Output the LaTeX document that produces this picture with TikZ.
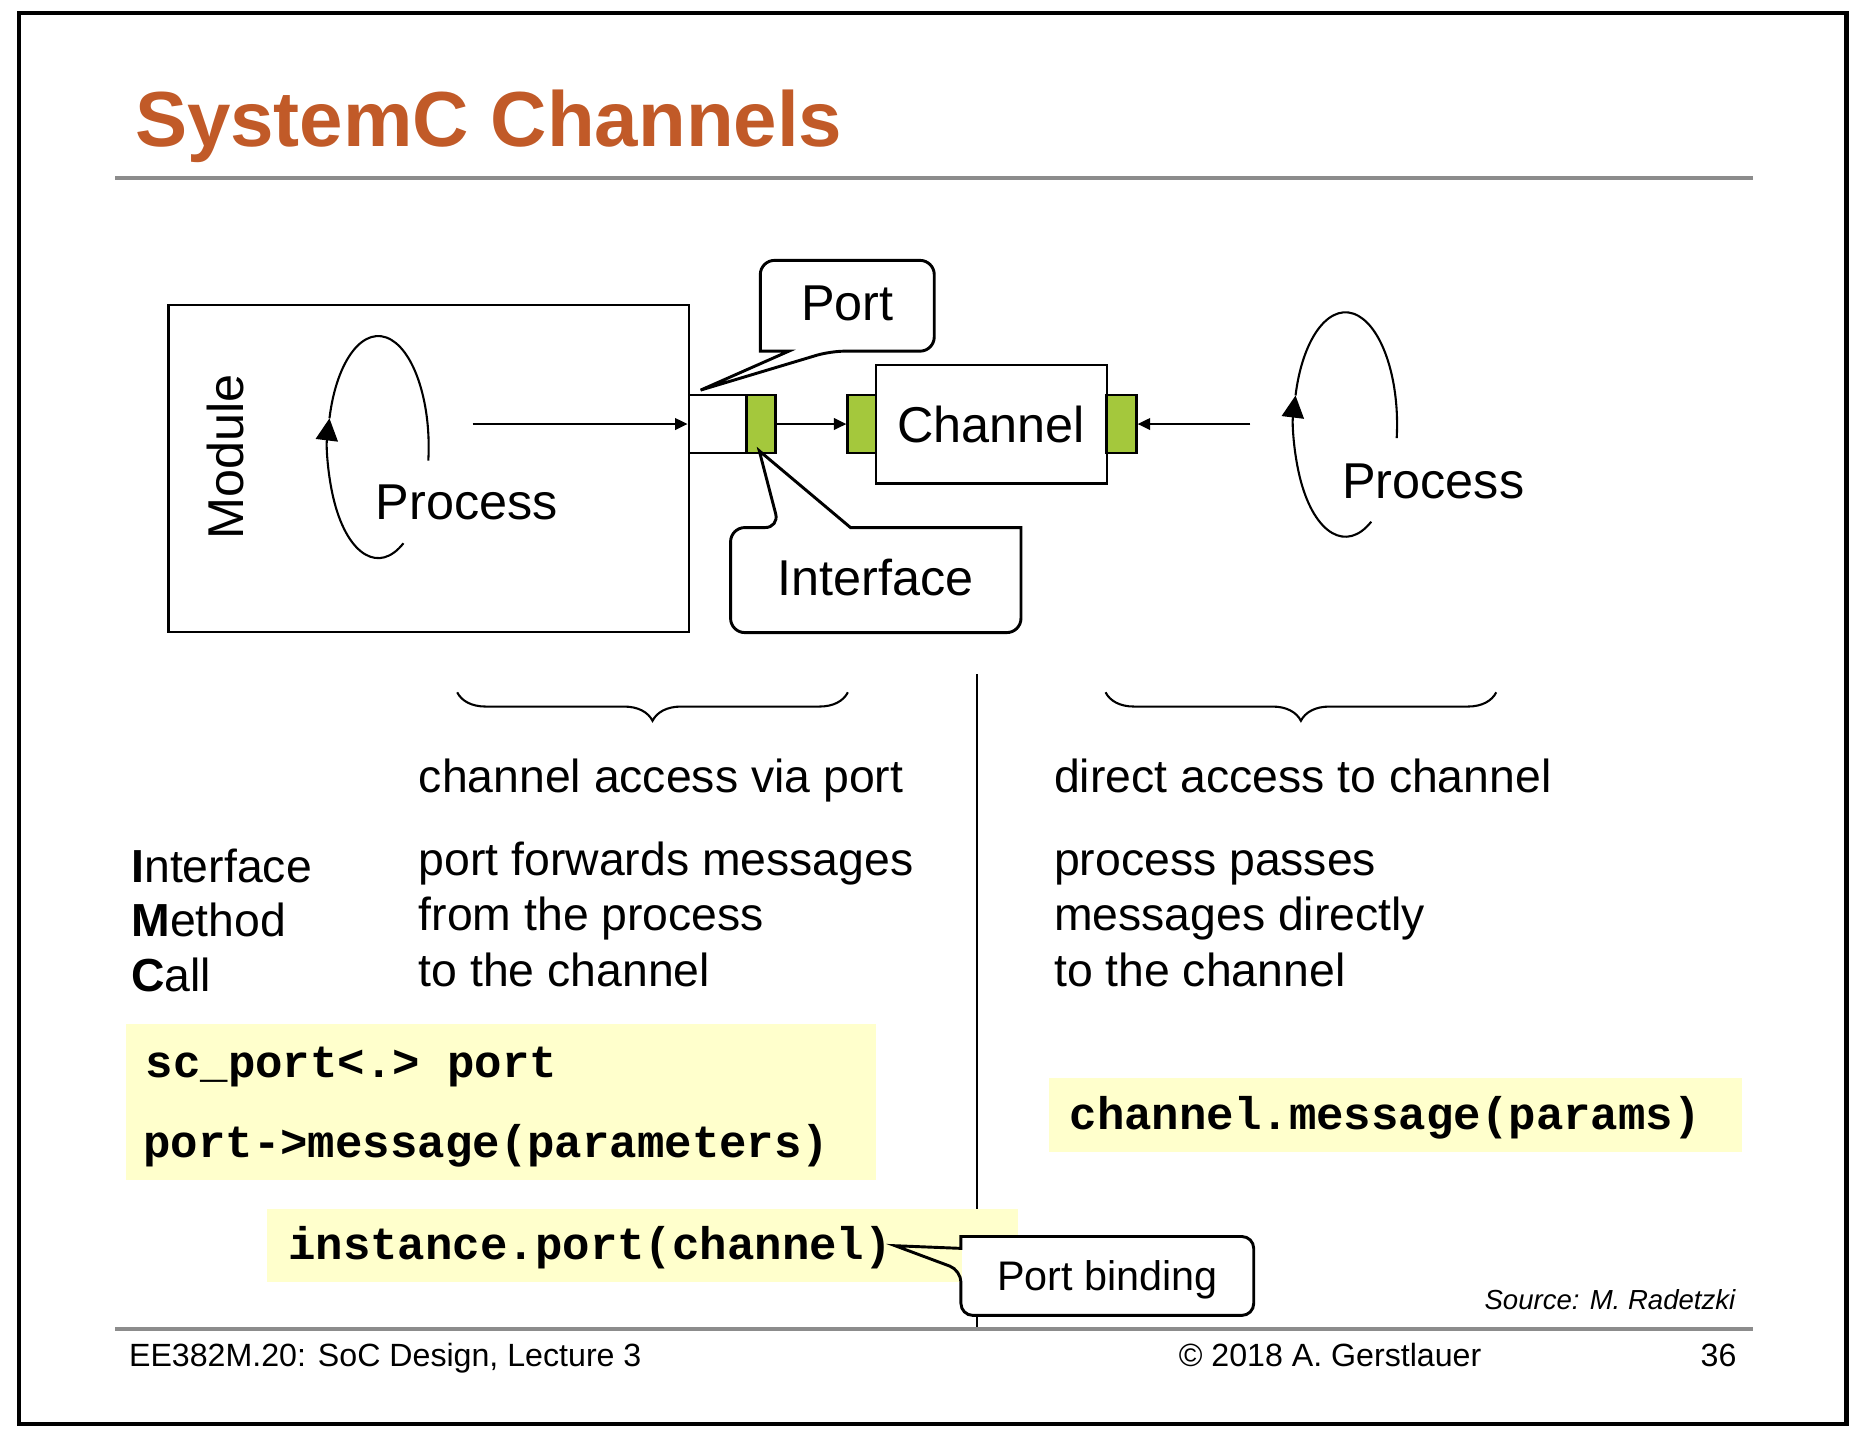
\documentclass[tikz,border=0pt]{standalone}
\usepackage{fontspec}
\setmainfont{Liberation Sans}
\setmonofont{Liberation Mono}
\usetikzlibrary{arrows.meta,calc,decorations.pathreplacing}

\definecolor{titleorange}{RGB}{193,90,40}
\definecolor{portgreen}{RGB}{164,200,60}
\definecolor{codeyellow}{RGB}{255,255,204}
\definecolor{rulegray}{RGB}{140,140,140}

\begin{document}
\begin{tikzpicture}[x=0.01cm, y=-0.01cm,
    box/.style={draw, line width=0.6pt, inner sep=0pt},
    pbox/.style={box, fill=portgreen, minimum height=0.49cm},
    lbl/.style={inner sep=0pt, font=\fontsize{12.06}{14}\selectfont},
    callbox/.style={fill=white, inner sep=0pt, text height=0.72em, text depth=0pt},
    callline/.style={line width=0.7pt},
    bodytxt/.style={anchor=base west, inner sep=0pt, font=\fontsize{11.1}{13.3}\selectfont},
    codetxt/.style={anchor=base west, inner sep=0pt, font=\ttfamily\bfseries\fontsize{10.95}{13}\selectfont},
    flow/.style={line width=0.5pt, -{Triangle[length=3pt,width=2.8pt]}},
    cycline/.style={line width=0.5pt},
    foot/.style={anchor=base west, inner sep=0pt, font=\fontsize{7.7}{9}\selectfont}]

        % Slide frame and title
        \useasboundingbox (0,0) rectangle (1568,1216);
        \draw[line width=1pt] (16,11) rectangle (1555,1199);
        \node[anchor=base west, inner sep=0pt, text=titleorange, font=\bfseries\fontsize{18.7}{22}\selectfont] (title) at (113,123) {SystemC Channels};
        \draw[rulegray, line width=1.1pt] (97,150) -- (1476,150);

        % Module with its process
        \node[box, minimum width=4.38cm, minimum height=2.75cm] (module) at (361,394.5) {};
        \node[lbl, rotate=90] (modlbl) at (190,385) {Module};
        \coordinate (cyc1) at (318.5,376.5);
        \draw[cycline, -{Triangle[length=5.3pt,width=5.3pt]}] ($(cyc1)+(60:42.5 and 93.5)$) arc[start angle=60, end angle=195, x radius=42.5, y radius=93.5];
        \draw[cycline] ($(cyc1)+(195:42.5 and 93.5)$) arc[start angle=195, end angle=367, x radius=42.5, y radius=93.5];
        \node[lbl] (proc1) at (393,423) {Process};

        % Port, interface and channel
        \node[box, fill=white, minimum width=0.487cm, minimum height=0.49cm] (port) at (604.4,357.1) {};
        \node[pbox, minimum width=0.243cm] (iface) at (640.9,357.1) {};
        \node[pbox, minimum width=0.239cm] (chanL) at (725.7,357.1) {};
        \node[box, lbl, minimum width=1.944cm, minimum height=1cm] (channel) at (834.8,357.2) {Channel};
        \node[pbox, minimum width=0.25cm] (chanR) at (944.5,357.1) {};

        \coordinate (out1) at (398,357.1);
        \draw[flow] (out1) -- (port.west);
        \draw[flow] (iface.east) -- (chanL.west);

        % Free process on the right
        \coordinate (cyc2) at (1133,357.5);
        \draw[cycline, -{Triangle[length=5.3pt,width=5.3pt]}] ($(cyc2)+(60:43.5 and 94.5)$) arc[start angle=60, end angle=195, x radius=43.5, y radius=94.5];
        \draw[cycline] ($(cyc2)+(195:43.5 and 94.5)$) arc[start angle=195, end angle=367, x radius=43.5, y radius=94.5];
        \node[lbl] (proc2) at (1207,405) {Process};
        \coordinate (out2) at (1053,357.1);
        \draw[flow] (out2) -- (chanR.east);

        % Callouts
        \node[callbox, lbl, minimum width=1.45cm, minimum height=0.75cm] (portlbl) at (713.5,257.5) {Port};
        \coordinate (porttip) at ($(port.north west)+(11,-3)$);
        \draw[callline] (portlbl.north) [rounded corners=0.12cm] -- (portlbl.north east) -- (portlbl.south east) -- ($(portlbl.south west)+(59,0)$) [sharp corners] -- (porttip) -- ($(portlbl.south west)+(24,0)$) -- (portlbl.south west) [rounded corners=0.12cm] -- (portlbl.north west) -- cycle;

        \node[callbox, lbl, minimum width=2.43cm, minimum height=0.87cm] (ifacelbl) at (737.5,488.5) {Interface};
        \coordinate (ifacetip) at ($(iface.south)+(-1.5,-3)$);
        \draw[callline] (ifacelbl.south) [rounded corners=0.12cm] -- (ifacelbl.south west) -- (ifacelbl.north west) -- ($(ifacelbl.north west)+(41,0)$) [sharp corners] -- (ifacetip) -- ($(ifacelbl.north west)+(101,0)$) -- (ifacelbl.north east) [rounded corners=0.12cm] -- (ifacelbl.south east) -- cycle;

        % Divider and braces
        \draw[line width=0.5pt] (823,568) -- (823,1118);
        \draw[line width=0.5pt, decorate, decoration={brace, amplitude=0.24cm}] (714,583) -- (385,583);
        \draw[line width=0.5pt, decorate, decoration={brace, amplitude=0.24cm}] (1260,583) -- (931,583);

        % Text columns
        \node[bodytxt] (accL) at (352,667) {channel access via port};
        \node[bodytxt] (accR) at (887,667) {direct access to channel};

        \node[bodytxt] (imc1) at (110,743) {\textbf{I}nterface};
        \node[bodytxt] (imc2) at (110,789) {\textbf{M}ethod};
        \node[bodytxt] (imc3) at (110,835) {\textbf{C}all};

        \node[bodytxt] (fwd1) at (352,737) {port forwards messages};
        \node[bodytxt] (fwd2) at (352,784) {from the process};
        \node[bodytxt] (fwd3) at (352,831) {to the channel};

        \node[bodytxt] (pass1) at (887,737) {process passes};
        \node[bodytxt] (pass2) at (887,784) {messages directly};
        \node[bodytxt] (pass3) at (887,831) {to the channel};

        % Code boxes
        \fill[codeyellow] (106,862) rectangle (738,994);
        \fill[codeyellow] (883,908) rectangle (1467,970);
        \fill[codeyellow] (225,1018) rectangle (857,1080);
        \node[codetxt] (codeA) at (122,907) {sc\_port<.> port};
        \node[codetxt] (codeB) at (120,975) {port->message(parameters)};
        \node[codetxt] (codeC) at (900,951) {channel.message(params)};
        \node[codetxt] (codeD) at (242,1061) {instance.port(channel)};

        % Port binding callout
        \node[callbox, minimum width=2.45cm, minimum height=0.65cm, font=\fontsize{9.9}{12}\selectfont] (bindlbl) at (932.5,1074.5) {Port binding};
        \coordinate (bindtip) at ($(codeD.east)+(2,-2)$);
        \draw[callline] (bindlbl.north) [rounded corners=0.1cm] -- (bindlbl.north east) -- (bindlbl.south east) -- (bindlbl.south west) -- ($(bindlbl.south west)+(0,-38)$) [sharp corners] -- (bindtip) -- ($(bindlbl.north west)+(0,10)$) -- (bindlbl.north west) [rounded corners=0.1cm] -- cycle;

        % Footer
        \node[anchor=base east, inner sep=0pt, font=\itshape\fontsize{6.6}{8}\selectfont] (source) at (1462,1103) {Source: M. Radetzki};
        \draw[rulegray, line width=1.1pt] (97,1119) -- (1476,1119);
        \node[foot] (course) at (108,1151) {EE382M.20: SoC Design, Lecture 3};
        \node[foot] (copy) at (992,1151) {© 2018 A. Gerstlauer};
        \node[foot, anchor=base east] (page) at (1463,1151) {36};
      \end{tikzpicture}
\end{document}
